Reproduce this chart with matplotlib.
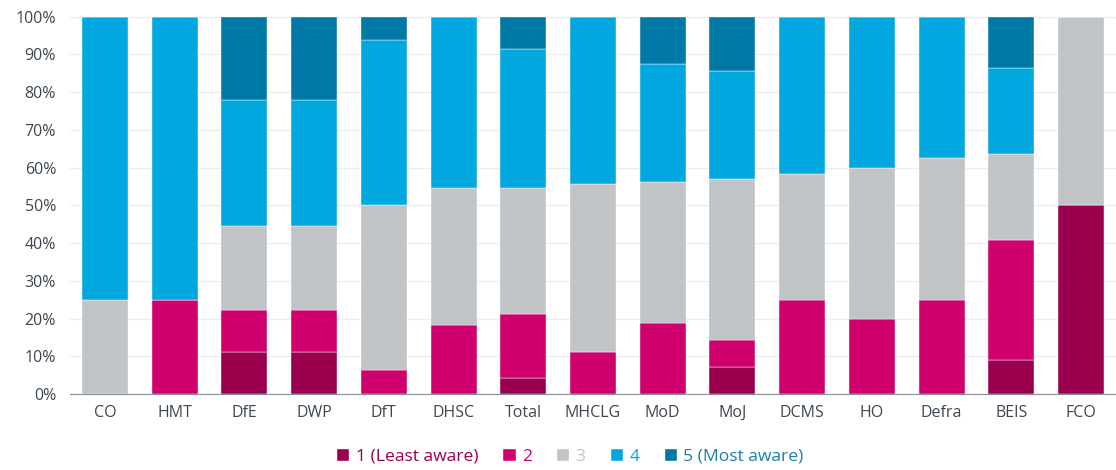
import matplotlib
matplotlib.use("Agg")
import matplotlib.pyplot as plt
import numpy as np

plt.rcParams['font.family'] = ['Open Sans', 'DejaVu Sans']

departments = ["CO", "HMT", "DfE", "DWP", "DfT", "DHSC", "Total", "MHCLG",
               "MoD", "MoJ", "DCMS", "HO", "Defra", "BEIS", "FCO"]

# share of respondents (%) per awareness level
level1 = [0, 0, 11.1, 11.1, 0, 0, 4.3, 0, 0, 7.1, 0, 0, 0, 9.1, 50]
level2 = [0, 25, 11.1, 11.1, 6.25, 18.2, 17.0, 11.1, 18.75, 7.2, 25, 20, 25, 31.8, 0]
level3 = [25, 0, 22.2, 22.2, 43.75, 36.3, 33.2, 44.5, 37.5, 42.8, 33.3, 40, 37.5, 22.7, 50]
level4 = [75, 75, 33.4, 33.4, 43.75, 45.5, 37.0, 44.4, 31.25, 28.6, 41.7, 40, 37.5, 22.7, 0]
level5 = [0, 0, 22.2, 22.2, 6.25, 0, 8.5, 0, 12.5, 14.3, 0, 0, 0, 13.7, 0]

labels = ["1 (Least aware)", "2", "3", "4", "5 (Most aware)"]
colors = ["#9b004f", "#d0006f", "#c1c4c7", "#00a8df", "#0079a6"]
text_colors = ["#9b004f", "#d0006f", "#c1c4c7", "#00a8df", "#1a7fa8"]

fig = plt.figure(figsize=(11.16, 4.70), dpi=100)
ax = fig.add_axes([0.0627, 0.1617, 0.9373, 0.8028])

x = np.arange(len(departments))
bottom = np.zeros(len(departments))
for vals, lab, col in zip([level1, level2, level3, level4, level5], labels, colors):
    ax.bar(x, vals, width=0.66, bottom=bottom, color=col, label=lab,
           edgecolor="white", linewidth=0.3)
    bottom += np.array(vals)

ax.set_xlim(-0.5, len(departments) - 0.5)
ax.set_ylim(0, 100)
ax.set_yticks(np.arange(0, 101, 10))
ax.set_yticklabels([f"{v}%" for v in range(0, 101, 10)])
ax.set_xticks(x)
ax.set_xticklabels(departments)
ax.tick_params(axis="both", length=0, labelsize=11.5, colors="#3d4650")
ax.tick_params(axis="x", pad=8)
ax.tick_params(axis="y", pad=10)
ax.grid(axis="y", color="#ececec", linewidth=0.8)
ax.set_axisbelow(True)
for s in ["top", "right", "left"]:
    ax.spines[s].set_visible(False)
ax.spines["bottom"].set_color("#8a8f94")

leg = fig.legend(loc="center", bbox_to_anchor=(0.511, 0.028), ncol=5,
                 frameon=False, fontsize=12.6, handlelength=0.7, handleheight=0.7,
                 handletextpad=0.35, columnspacing=1.45)
for t, c in zip(leg.get_texts(), text_colors):
    t.set_color(c)

fig.savefig("out.png", dpi=100)
